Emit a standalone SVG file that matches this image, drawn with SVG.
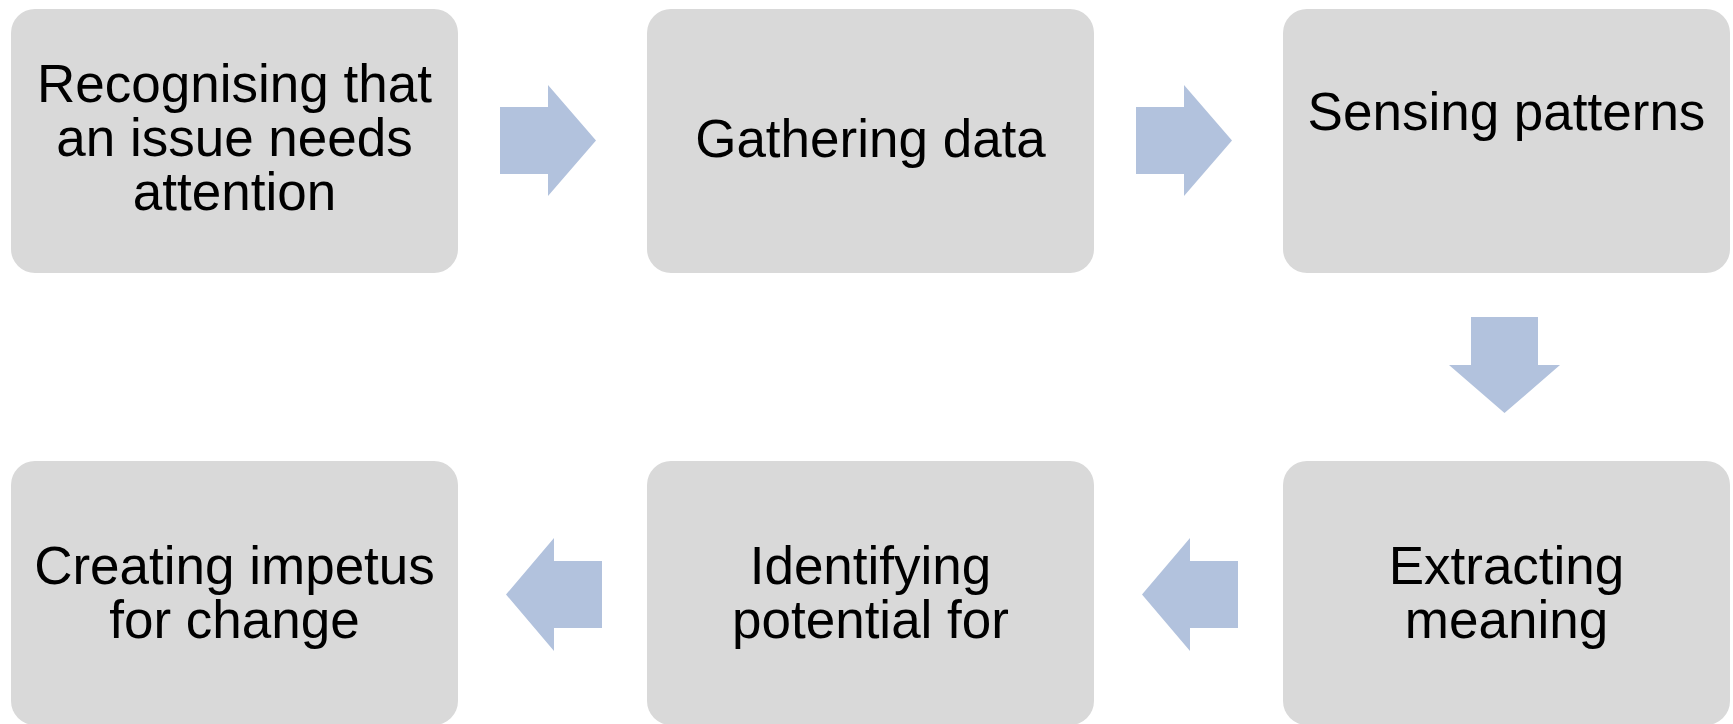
<svg xmlns="http://www.w3.org/2000/svg" width="1733" height="724" viewBox="0 0 1733 724">
  <style>
    .box { fill: #d9d9d9; }
    .arrow { fill: #b2c2dd; }
    .label { font-family: "Liberation Sans", Arial, sans-serif; font-size: 53px; fill: #000000; text-anchor: middle; }
  </style>
  <rect width="1733" height="724" fill="#ffffff"/>
  <g id="connectors">
    <polygon class="arrow" points="500,107 548,107 548,85 596,140.5 548,196 548,174 500,174"/>
    <polygon class="arrow" points="1136,107 1184,107 1184,85 1232,140.5 1184,196 1184,174 1136,174"/>
    <polygon class="arrow" points="1471,317 1538,317 1538,365 1560,365 1504.5,413 1449,365 1471,365"/>
    <polygon class="arrow" points="1238,561 1190,561 1190,538 1142,594.5 1190,651 1190,628 1238,628"/>
    <polygon class="arrow" points="602,561 554,561 554,538 506,594.5 554,651 554,628 602,628"/>
  </g>
  <g id="node1">
    <rect class="box" x="11" y="9" width="447" height="264" rx="24" ry="24"/>
    <text class="label" x="234.5" y="102">Recognising that</text>
    <text class="label" x="234.5" y="156">an issue needs</text>
    <text class="label" x="234.5" y="210">attention</text>
  </g>
  <g id="node2">
    <rect class="box" x="647" y="9" width="447" height="264" rx="24" ry="24"/>
    <text class="label" x="870.5" y="157">Gathering data</text>
  </g>
  <g id="node3">
    <rect class="box" x="1283" y="9" width="447" height="264" rx="24" ry="24"/>
    <text class="label" x="1506.5" y="130">Sensing patterns</text>
  </g>
  <g id="node4">
    <rect class="box" x="1283" y="461" width="447" height="264" rx="24" ry="24"/>
    <text class="label" x="1506.5" y="584">Extracting</text>
    <text class="label" x="1506.5" y="638">meaning</text>
  </g>
  <g id="node5">
    <rect class="box" x="647" y="461" width="447" height="264" rx="24" ry="24"/>
    <text class="label" x="870.5" y="584">Identifying</text>
    <text class="label" x="870.5" y="638">potential for</text>
  </g>
  <g id="node6">
    <rect class="box" x="11" y="461" width="447" height="264" rx="24" ry="24"/>
    <text class="label" x="234.5" y="584">Creating impetus</text>
    <text class="label" x="234.5" y="638">for change</text>
  </g>
</svg>
